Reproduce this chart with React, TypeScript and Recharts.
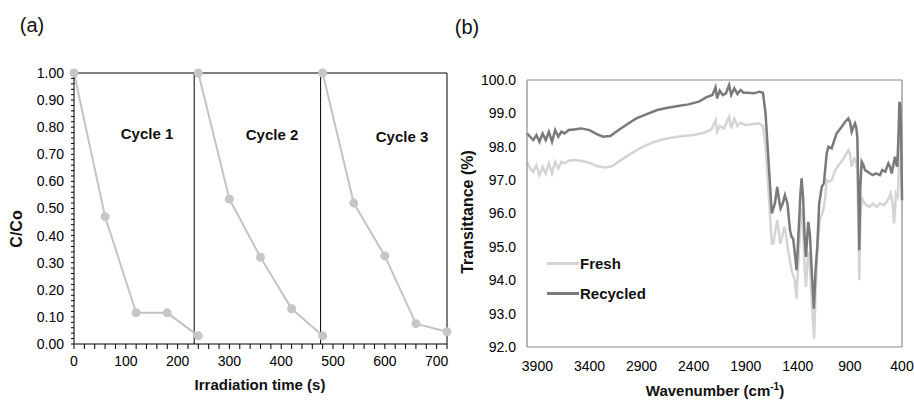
import React from 'react';
import { LineChart, Line, XAxis, YAxis, ReferenceLine } from 'recharts';

const FONT = '"Liberation Sans", Arial, Helvetica, sans-serif';

// ---- (a) photocatalytic reuse cycles ----
const cycle1Time = [0, 60, 120, 180, 240];
const cycle1Ratio = [1.0, 0.47, 0.115, 0.115, 0.03];
const cycle2Time = [240, 300, 360, 420, 480];
const cycle2Ratio = [1.0, 0.535, 0.32, 0.13, 0.03];
const cycle3Time = [480, 540, 600, 660, 720];
const cycle3Ratio = [1.0, 0.52, 0.325, 0.075, 0.045];
const cycleNames = ['Cycle 1', 'Cycle 2', 'Cycle 3'];
const cycleBreaks = [232, 476];
const timeTicks = Array.from({ length: 37 }, (_, i) => i * 20);
const ratioTicks = Array.from({ length: 51 }, (_, i) => i / 50);

// ---- (b) FTIR spectra ----
const recycledWn = [
  4000, 3970, 3940, 3910, 3880, 3850, 3820, 3790, 3760, 3730, 3700, 3670, 3640, 3600, 3550, 3480,
  3400, 3330, 3270, 3200, 3130, 3050, 2950, 2850, 2750, 2650, 2550, 2450, 2350, 2280, 2220, 2190,
  2175, 2150, 2120, 2090, 2060, 2040, 2010, 1980, 1950, 1920, 1880, 1820, 1770, 1735, 1710, 1680,
  1650, 1620, 1598, 1580, 1566, 1545, 1524, 1500, 1475, 1460, 1445, 1425, 1412, 1395, 1375, 1364,
  1350, 1335, 1322, 1310, 1300, 1285, 1265, 1246, 1230, 1213, 1195, 1170, 1150, 1123, 1107, 1075,
  1050, 1027, 979, 945, 915, 900, 883, 865, 851, 840, 829, 818, 810, 800, 787, 770, 755, 730, 707,
  680, 650, 611, 590, 560, 531, 515, 499, 480, 467, 452, 445, 432, 425, 415, 405, 400,
];
const recycledT = [
  98.4, 98.3, 98.2, 98.35, 98.15, 98.4, 98.2, 98.45, 98.15, 98.5, 98.3, 98.45, 98.4, 98.5, 98.52, 98.55,
  98.5, 98.38, 98.3, 98.32, 98.48, 98.65, 98.85, 98.98, 99.1, 99.17, 99.22, 99.27, 99.35, 99.48, 99.55, 99.78,
  99.45, 99.68, 99.55, 99.6, 99.85, 99.55, 99.75, 99.58, 99.7, 99.62, 99.62, 99.6, 99.65, 99.62, 99.0, 97.5,
  96.0, 96.3, 96.8, 96.4, 96.15, 96.3, 96.55, 96.3, 95.5, 95.3, 95.25, 94.7, 94.3, 95.3, 96.6, 97.05,
  96.5, 95.3, 94.7, 95.3, 95.75, 95.4, 94.2, 93.15, 94.3, 95.0, 96.3, 96.8, 96.9, 97.8, 98.0, 97.95,
  98.2, 98.4, 98.6, 98.75, 98.85, 98.75, 98.45, 98.6, 98.7, 98.6, 98.3, 96.5, 94.9, 96.8, 97.55, 97.45, 97.3, 97.25, 97.2,
  97.15, 97.2, 97.15, 97.3, 97.25, 97.5, 97.4, 97.2, 97.5, 97.7, 97.45, 97.4, 98.5, 99.35, 99.2, 97.8, 96.4,
];

const freshWn = [
  4000, 3970, 3940, 3910, 3880, 3850, 3820, 3790, 3760, 3730, 3700, 3670, 3640, 3600, 3550, 3480,
  3400, 3330, 3250, 3180, 3100, 3000, 2900, 2800, 2700, 2600, 2500, 2400, 2300, 2230, 2190, 2175,
  2150, 2110, 2060, 2040, 2010, 1980, 1950, 1900, 1830, 1770, 1735, 1710, 1680, 1650, 1635, 1620,
  1598, 1580, 1570, 1550, 1530, 1510, 1494, 1460, 1430, 1412, 1395, 1375, 1364, 1350, 1335, 1322,
  1310, 1300, 1285, 1265, 1244, 1230, 1213, 1190, 1155, 1140, 1123, 1100, 1075, 1040, 1006, 970,
  942, 915, 900, 883, 865, 857, 840, 829, 818, 810, 800, 787, 770, 739, 710, 680, 643, 610, 575,
  547, 520, 508, 490, 477, 465, 458, 440, 430, 422, 412, 400,
];
const freshT = [
  97.55, 97.35, 97.25, 97.45, 97.15, 97.4, 97.2, 97.5, 97.2, 97.55, 97.35, 97.55, 97.5, 97.58, 97.6, 97.58,
  97.52, 97.42, 97.38, 97.42, 97.6, 97.8, 97.98, 98.12, 98.22, 98.28, 98.32, 98.35, 98.42, 98.52, 98.8, 98.45,
  98.62, 98.55, 98.9, 98.55, 98.85, 98.62, 98.72, 98.65, 98.68, 98.7, 98.62, 98.0, 96.6, 95.1, 95.1, 95.4,
  95.8, 95.4, 95.1, 95.3, 95.6, 95.3, 94.9, 94.3, 94.0, 93.45, 94.6, 95.7, 96.15, 95.6, 94.4, 93.8,
  94.4, 94.85, 94.5, 93.3, 92.25, 93.6, 94.9, 95.8, 96.1, 96.4, 97.0, 96.95, 97.0, 97.3, 97.45, 97.6,
  97.75, 97.9, 97.8, 97.4, 97.6, 97.65, 97.55, 97.3, 95.5, 94.0, 95.8, 96.5, 96.35, 96.25, 96.2, 96.3, 96.2, 96.3, 96.25,
  96.35, 96.5, 96.6, 96.3, 95.7, 96.2, 96.6, 96.5, 97.4, 98.35, 97.8, 96.5,
];
const wnTicks = [3900, 3400, 2900, 2400, 1900, 1400, 900, 400];
const transTicks = [92, 93, 94, 95, 96, 97, 98, 99, 100];

const zipCycle = (t: number[], c: number[]) => t.map((v, i) => ({ t: v, c: c[i] }));
const zipSpec = (w: number[], v: number[]) => w.map((x, i) => ({ wn: x, v: v[i] }));

const cycles = [
  zipCycle(cycle1Time, cycle1Ratio),
  zipCycle(cycle2Time, cycle2Ratio),
  zipCycle(cycle3Time, cycle3Ratio),
];
const freshData = zipSpec(freshWn, freshT);
const recycledData = zipSpec(recycledWn, recycledT);

const tickFont = { fontSize: 14, fill: '#000', fontFamily: FONT };
const FRAME_B = '#8a8a8a';

function Text({ x, y, size, bold, children, rotate }: any) {
  return (
    <div
      style={{
        position: 'absolute',
        left: x,
        top: y,
        transform: `translate(-50%, -50%)${rotate ? ' rotate(-90deg)' : ''}`,
        fontFamily: FONT,
        fontSize: size,
        fontWeight: bold ? 700 : 400,
        whiteSpace: 'nowrap',
        color: '#111',
        lineHeight: 1,
      }}
    >
      {children}
    </div>
  );
}

function PanelA() {
  const labelPos = [
    { x: 147, y: 133 },
    { x: 272, y: 134 },
    { x: 402, y: 136 },
  ];
  return (
    <div style={{ position: 'absolute', left: 0, top: 0, width: 460, height: 402 }}>
      <LineChart width={460} height={402} margin={{ top: 73, right: 13, left: 0, bottom: 28 }}>
        <XAxis
          type="number"
          dataKey="t"
          domain={[0, 720]}
          ticks={timeTicks}
          interval={0}
          tickFormatter={(v: number) => (v % 100 === 0 ? String(v) : '')}
          tick={tickFont}
          tickSize={5}
          tickMargin={7}
          height={30}
          axisLine={{ stroke: '#000', strokeWidth: 1 }}
          tickLine={{ stroke: '#000' }}
        />
        <YAxis
          type="number"
          domain={[0, 1]}
          ticks={ratioTicks}
          interval={0}
          tickFormatter={(v: number) => (Math.round(v * 100) % 10 === 0 ? v.toFixed(2) : '')}
          tick={tickFont}
          tickSize={3}
          tickMargin={7}
          width={74}
          axisLine={{ stroke: '#000', strokeWidth: 1 }}
          tickLine={{ stroke: '#000' }}
        />
        <ReferenceLine y={1} stroke="#000" strokeWidth={1} />
        <ReferenceLine x={720} stroke="#000" strokeWidth={1} />
        {cycleBreaks.map((b) => (
          <ReferenceLine key={b} x={b} stroke="#000" strokeWidth={1} />
        ))}
        {cycles.map((d, i) => (
          <Line
            key={i}
            data={d}
            dataKey="c"
            type="linear"
            stroke="#c4c4c4"
            strokeWidth={2}
            dot={{ r: 4.5, fill: '#c6c6c6', stroke: 'none' }}
            isAnimationActive={false}
          />
        ))}
      </LineChart>
      {cycleNames.map((n, i) => (
        <Text key={n} x={labelPos[i].x} y={labelPos[i].y} size={15} bold>
          {n}
        </Text>
      ))}
      <Text x={32} y={25} size={20}>(a)</Text>
      <Text x={17} y={229} size={16} bold rotate>C/Co</Text>
      <Text x={260} y={384} size={15} bold>Irradiation time (s)</Text>
    </div>
  );
}

function PanelB() {
  return (
    <div style={{ position: 'absolute', left: 450, top: 0, width: 464, height: 402 }}>
      <LineChart width={464} height={402} margin={{ top: 80, right: 12, left: 0, bottom: 25 }}>
        <XAxis
          type="number"
          dataKey="wn"
          domain={[400, 4000]}
          reversed
          ticks={wnTicks}
          interval={0}
          tick={tickFont}
          tickSize={0}
          tickMargin={14}
          height={30}
          axisLine={{ stroke: FRAME_B, strokeWidth: 1.2 }}
          tickLine={false}
        />
        <YAxis
          type="number"
          domain={[92, 100]}
          ticks={transTicks}
          interval={0}
          tickFormatter={(v: number) => v.toFixed(1)}
          tick={tickFont}
          tickSize={0}
          tickMargin={11}
          width={77}
          axisLine={{ stroke: FRAME_B, strokeWidth: 1.2 }}
          tickLine={false}
        />
        <ReferenceLine y={100} stroke={FRAME_B} strokeWidth={1.2} />
        <ReferenceLine x={400} stroke={FRAME_B} strokeWidth={1.2} />
        <Line
          data={freshData}
          dataKey="v"
          type="linear"
          stroke="#d4d4d4"
          strokeWidth={2.5}
          dot={false}
          isAnimationActive={false}
        />
        <Line
          data={recycledData}
          dataKey="v"
          type="linear"
          stroke="#7a7a7a"
          strokeWidth={2.5}
          dot={false}
          isAnimationActive={false}
        />
      </LineChart>
      <Text x={17} y={27} size={20}>(b)</Text>
      <Text x={18} y={212} size={16} bold rotate>Transittance (%)</Text>
      <Text x={265} y={390} size={15} bold>
        Wavenumber (cm<sup style={{ fontSize: 10 }}>-1</sup>)
      </Text>
      <div style={{ position: 'absolute', left: 97, top: 262, width: 32, height: 3, background: '#d4d4d4' }} />
      <div style={{ position: 'absolute', left: 97, top: 292, width: 32, height: 3, background: '#7a7a7a' }} />
      <div style={{ position: 'absolute', left: 130, top: 255, fontFamily: FONT, fontSize: 15, fontWeight: 700, color: '#111' }}>Fresh</div>
      <div style={{ position: 'absolute', left: 130, top: 285, fontFamily: FONT, fontSize: 15, fontWeight: 700, color: '#111' }}>Recycled</div>
    </div>
  );
}

export default function App() {
  return (
    <div style={{ position: 'absolute', left: 0, top: 0, width: 914, height: 402, background: '#fff', overflow: 'hidden' }}>
      <PanelA />
      <PanelB />
    </div>
  );
}
